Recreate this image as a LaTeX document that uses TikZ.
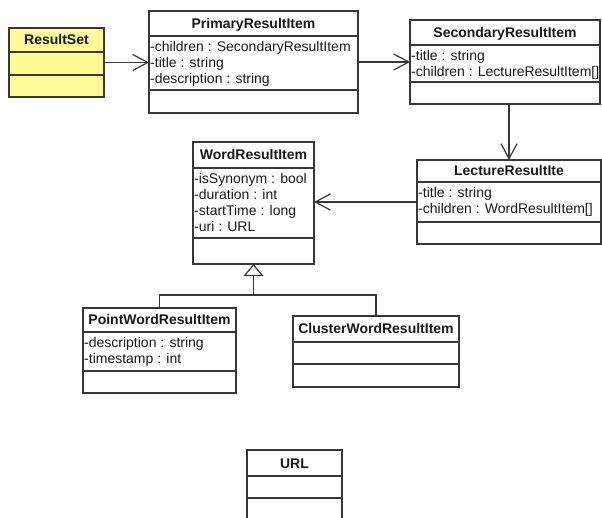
\documentclass[tikz,border=0pt]{standalone}
\usepackage{fontspec}
\setmainfont{Liberation Sans}
\usetikzlibrary{arrows.meta}
\definecolor{rsyellow}{RGB}{255,250,150}
\definecolor{linec}{RGB}{55,55,55}
\definecolor{textc}{RGB}{25,25,25}
\tikzset{
  classbox/.style={draw=linec, line width=1.2pt, fill=white, inner sep=0pt, outer sep=0pt},
  yellowbox/.style={classbox, fill=rsyellow},
  divider/.style={draw=linec, line width=1.2pt},
  titletext/.style={font=\fontsize{14}{16}\selectfont\bfseries, text=textc, anchor=base, inner sep=0pt},
  attrtext/.style={font=\fontsize{14}{16}\selectfont, text=textc, anchor=base west, inner sep=0pt},
  assoc/.style={draw=linec, line width=1.2pt, -{Straight Barb[length=15pt,width=16pt,line width=1.2pt]}},
  gen/.style={draw=linec, line width=1.2pt, -{Triangle[open,length=12pt,width=20pt,line width=1.2pt,fill=white]}},
  plainline/.style={draw=linec, line width=1.2pt},
}
% id, x1, y1, x2, y2, div1, div2, title, attributes
\newcommand{\umlclass}[9]{%
  \node[classbox, anchor=north west, minimum width={(#4-#2)*1pt}, minimum height={(#5-#3)*1pt}] (#1) at (#2,#3) {};
  \node[titletext] (#1-t) at ({(#2+#4)/2},{(#3+#6)/2+5}) {#8};
  \draw[divider] (#2,#6) -- (#4,#6);
  \draw[divider] (#2,#7) -- (#4,#7);
  \foreach \a [count=\i] in {#9} {\node[attrtext] (#1-a\i) at (#2+1, #6+15.5+16*\i-16) {\a};}%
}
\begin{document}
\begin{tikzpicture}[x=1pt, y=-1pt]
\useasboundingbox (0,0) rectangle (602,518);
\clip (0,0) rectangle (602,518);
\fill[white] (0,0) rectangle (602,518);

\begin{scope}[classbox/.append style={fill=rsyellow}]
\umlclass{rs}{9}{28}{104}{97}{52}{75}{ResultSet}{}
\end{scope}
\umlclass{pri}{149}{11}{358}{113}{36}{90}{PrimaryResultItem}{-children : SecondaryResultItem,-title : string,-description : string}
\umlclass{sec}{410}{20}{600}{104}{45}{82}{SecondaryResultItem}{-title : string,-children : LectureResultItem[]}
\umlclass{lec}{417}{160}{601}{244}{182}{222}{LectureResultIte}{-title : string,-children : WordResultItem[]}
\umlclass{wri}{193}{142}{314}{264}{168}{238}{WordResultItem}{-isSynonym : bool,-duration : int,-startTime : long,-uri : URL}
\umlclass{pw}{83}{308}{236}{393}{332}{371}{PointWordResultItem}{-description : string,-timestamp : int}
\umlclass{cw}{293}{316}{459}{387}{342}{364}{ClusterWordResultItem}{}
\umlclass{url}{247}{450}{342}{530}{476}{498}{URL}{}

\coordinate (jn) at (253.5,295);
\draw[assoc] (rs.east) -- (rs.east -| pri.west);
\draw[assoc] (pri.east) -- (pri.east -| sec.west);
\draw[assoc] (lec.north |- sec.south) -- (lec.north);
\draw[assoc] (lec.west) -- (lec.west -| wri.east);
\draw[plainline] (pw.north) |- (jn) -| (cw.north);
\draw[gen] (jn) -- (wri.south);
\end{tikzpicture}
\end{document}
